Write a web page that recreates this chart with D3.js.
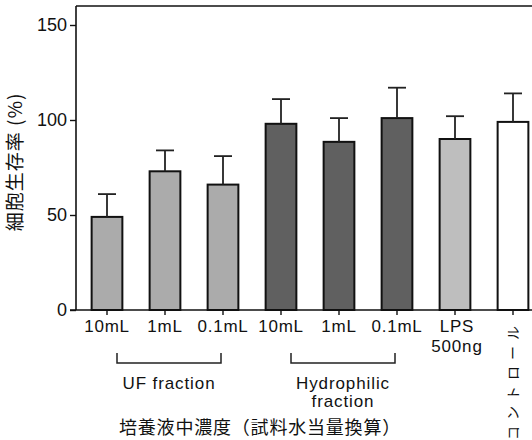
<!DOCTYPE html>
<html><head><meta charset="utf-8">
<script src="https://cdn.jsdelivr.net/npm/d3@7"></script>
<style>
html,body{margin:0;padding:0;background:#fff;}
svg{display:block;}
text{font-family:"Liberation Sans",Arial,sans-serif;fill:#111;}
.jp{font-family:"Noto Sans CJK JP","Noto Sans CJK SC",sans-serif;}
</style></head>
<body>
<script>
// ---- data ----
const categories = ["UF 10mL","UF 1mL","UF 0.1mL","Hyd 10mL","Hyd 1mL","Hyd 0.1mL","LPS","Control"];
const tickLabels = [["10mL"],["1mL"],["0.1mL"],["10mL"],["1mL"],["0.1mL"],["LPS","500ng"],[]];
const means = [49, 73, 66, 98, 88.5, 101, 90, 99];
const errors = [12, 11, 15, 13, 12.5, 16, 12, 15];
const groups = ["uf","uf","uf","hyd","hyd","hyd","lps","ctrl"];
const yTicks = [0, 50, 100, 150];
const groupLabels = [{from:0,to:2,lines:["UF fraction"]},{from:3,to:5,lines:["Hydrophilic","fraction"]}];
const yTitle = "細胞生存率 (%)";
const xTitle = "培養液中濃度（試料水当量換算）";
const controlLabel = "コントロール";

const W = 532, H = 440;
const fills = {uf:"#ababab", hyd:"#606060", lps:"#bebebe", ctrl:"#ffffff"};

const svg = d3.select("body").append("svg").attr("width",W).attr("height",H);

const y = d3.scaleLinear().domain([0,160]).range([310,6]);
const x = d3.scaleBand().domain(categories).range([78,542]).paddingInner(0.47).paddingOuter(0.235);
const xc = d => x(d) + x.bandwidth()/2;

// frame top
svg.append("line").attr("x1",76).attr("x2",W).attr("y1",y(160)).attr("y2",y(160)).attr("stroke","#111").attr("stroke-width",1.6);

// bars
const data = categories.map((c,i)=>({c, m:means[i], e:errors[i], g:groups[i]}));
svg.append("g").selectAll("rect").data(data).join("rect")
  .attr("x",d=>x(d.c)).attr("y",d=>y(d.m)).attr("width",x.bandwidth()).attr("height",d=>y(0)-y(d.m))
  .attr("fill",d=>fills[d.g]).attr("stroke","#111").attr("stroke-width",2);

// error bars
const eb = svg.append("g").attr("stroke","#222").attr("stroke-width",1.8);
eb.selectAll("line.v").data(data).join("line").attr("class","v")
  .attr("x1",d=>xc(d.c)).attr("x2",d=>xc(d.c)).attr("y1",d=>y(d.m)).attr("y2",d=>y(d.m+d.e));
eb.selectAll("line.h").data(data).join("line").attr("class","h")
  .attr("x1",d=>xc(d.c)-9).attr("x2",d=>xc(d.c)+9).attr("y1",d=>y(d.m+d.e)).attr("y2",d=>y(d.m+d.e));

// y axis
const ya = svg.append("g").attr("transform","translate(76,0)")
  .call(d3.axisLeft(y).tickValues(yTicks).tickSize(6).tickPadding(3).tickFormat(d3.format("d")));
ya.select(".domain").attr("d",`M0,${y(0)}V${y(160)}`).attr("stroke","#111").attr("stroke-width",1.6);
ya.selectAll(".tick line").attr("stroke","#111").attr("stroke-width",1.4);
ya.selectAll(".tick text").attr("font-size",18).attr("fill","#111").attr("font-family","Liberation Sans, Arial, sans-serif");

// x axis
const xa = svg.append("g").attr("transform",`translate(0,${y(0)})`)
  .call(d3.axisBottom(x).tickSize(5).tickFormat(""));
xa.select(".domain").attr("d",`M70,0H${W}`).attr("stroke","#111").attr("stroke-width",1.6);
xa.selectAll(".tick line").attr("stroke","#111").attr("stroke-width",1.4);

// x tick labels
categories.forEach((c,i)=>{
  tickLabels[i].forEach((t,j)=>{
    svg.append("text").attr("x",xc(c)+(t==="LPS"||t==="500ng"?2:0)).attr("y",332+j*20)
      .attr("text-anchor","middle").attr("font-size",17).attr("letter-spacing",0.8).text(t);
  });
});

// control vertical label
svg.append("text").attr("class","jp")
  .attr("transform",`translate(${xc("Control")+5},320) rotate(-90)`)
  .attr("text-anchor","end").attr("font-size",14).attr("letter-spacing",6).text(controlLabel);

// brackets + group labels
groupLabels.forEach(g=>{
  const x1 = xc(categories[g.from])+10, x2 = xc(categories[g.to])-2;
  svg.append("path").attr("d",`M${x1},353V363H${x2}V353`).attr("fill","none").attr("stroke","#222").attr("stroke-width",1.5);
  const cx = (x1+x2)/2;
  g.lines.forEach((l,j)=>{
    svg.append("text").attr("x",cx).attr("y",389+j*18).attr("text-anchor","middle").attr("font-size",17).attr("letter-spacing",0.9).text(l);
  });
});

// titles
svg.append("text").attr("class","jp").attr("x",260).attr("y",434).attr("text-anchor","middle").attr("font-size",18).attr("letter-spacing",0.8).text(xTitle);
svg.append("text").attr("class","jp").attr("transform","translate(22,162) rotate(-90)").attr("text-anchor","middle").attr("font-size",19).attr("letter-spacing",1).text(yTitle);
</script>
</body></html>
